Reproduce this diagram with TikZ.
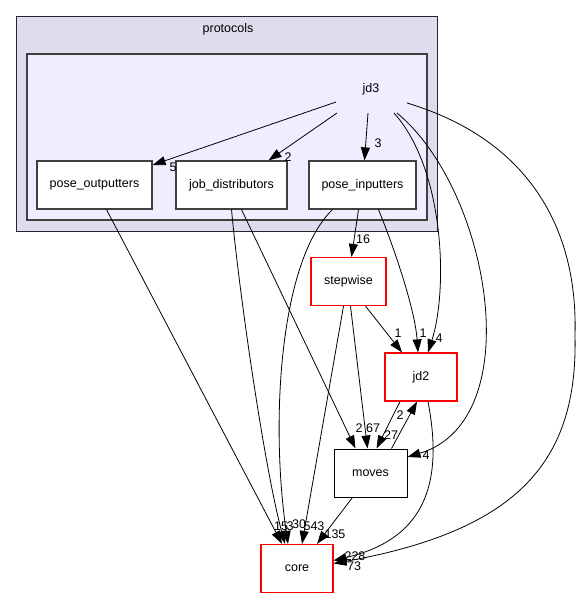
\documentclass[tikz,border=0pt]{standalone}
\usepackage{fontspec}
\setmainfont{Liberation Sans}
\usetikzlibrary{arrows.meta}
\definecolor{outerfill}{RGB}{221,221,238}
\definecolor{innerfill}{RGB}{238,238,255}
\definecolor{boxline}{RGB}{64,64,64}

\begin{document}
\begin{tikzpicture}[x=1pt,y=-1pt,>={Stealth[length=13pt,width=9pt,inset=0pt]},
  font=\fontsize{12.5}{14}\selectfont,
  dirbox/.style={draw=boxline,line width=1.2pt,fill=white,minimum height=48pt,inner sep=0pt},
  extbox/.style={draw=red,line width=1.2pt,fill=white,minimum width=73pt,minimum height=48pt,inner sep=0pt},
  lbl/.style={inner sep=0pt},
  edge/.style={->,line width=0.8pt}]
  \useasboundingbox (0,0) rectangle (580,599);
  % the two clusters
  \draw[fill=outerfill,draw=black!85,line width=0.8pt] (16,16) rectangle (437,231);
  \draw[fill=innerfill,draw=boxline,line width=1.8pt] (27,54) rectangle (427,220);
  \node (protocols) at (228,29) {protocols};
  \node (jd3) at (371,89) {jd3};
  % directories
  \node[dirbox,minimum width=115pt] (poseout) at (94.5,185) {pose\_outputters};
  \node[dirbox,minimum width=111pt] (jobdist) at (231.5,185) {job\_distributors};
  \node[dirbox,minimum width=107pt] (posein) at (362.5,185) {pose\_inputters};
  \node[extbox,minimum width=75pt] (stepwise) at (348.5,281.5) {stepwise};
  \node[extbox,minimum width=72pt] (jd2) at (421,377) {jd2};
  \node[dirbox,draw=black,line width=1pt,minimum width=73pt] (moves) at (370.5,473) {moves};
  \node[extbox,minimum width=72pt] (core) at (297,568.5) {core};
  % out of jd3
  \draw[edge] ([shift={(-35,13)}]jd3.center) -- ([yshift=20pt]poseout.east);
  \draw[edge] ([shift={(-34,24)}]jd3.center) -- ([xshift=37pt]jobdist.north);
  \draw[edge] ([shift={(-3,24)}]jd3.center) -- ([xshift=2pt]posein.north);
  \draw[edge] ([shift={(23,24)}]jd3.center) .. controls (445,170) and (448,290) .. ([xshift=7pt]jd2.north);
  \draw[edge] ([shift={(26,24)}]jd3.center) .. controls (490,190) and (530,420) .. ([yshift=16pt]moves.east);
  \draw[edge] ([shift={(36,14)}]jd3.center) .. controls (530,140) and (578,230) .. (575,335)
    .. controls (578,460) and (520,530) .. ([yshift=5pt]core.east);
  % lower part
  \draw[edge] ([xshift=12pt]poseout.south) -- ([xshift=-15pt]core.north);
  \draw[edge] (jobdist.south) .. controls (240,300) and (265,470) .. ([xshift=-12pt]core.north);
  \draw[edge] ([xshift=10pt]jobdist.south) -- ([xshift=-15pt]moves.north);
  \draw[edge] ([xshift=-30pt]posein.south) .. controls (280,260) and (270,420) .. ([xshift=-9pt]core.north);
  \draw[edge] ([xshift=-4pt]posein.south) -- ([xshift=3pt]stepwise.north);
  \draw[edge] ([xshift=16pt]posein.south) .. controls (395,250) and (415,310) .. ([xshift=-3pt]jd2.north);
  \draw[edge] ([xshift=-5pt]stepwise.south) -- ([xshift=5pt]core.north);
  \draw[edge] ([xshift=2pt]stepwise.south) -- ([xshift=-3pt]moves.north);
  \draw[edge] ([xshift=17pt]stepwise.south) -- ([xshift=-19pt]jd2.north);
  \draw[edge] ([xshift=-21pt]jd2.south) -- ([xshift=6pt]moves.north);
  \draw[edge] ([xshift=21pt]moves.north) -- ([xshift=-4pt]jd2.south);
  \draw[edge] ([xshift=7pt]jd2.south) .. controls (445,490) and (420,540) .. ([yshift=8pt]core.east);
  \draw[edge] ([xshift=-18pt]moves.south) -- ([xshift=20pt]core.north);
  % edge counts
  \foreach \txt/\xpos/\ypos [count=\nn] in {5/173/167, 2/288/157, 3/378/143, 16/363/239,
      1/398/333, 1/423/333, 4/439/338, 2/359/428, 67/373/428, 27/391/435, 2/400/415,
      4/426/455, 15/281/526, 3/290/526, 30/299/524, 543/314/526, 135/335/534,
      228/355/556, 73/354/566}{%
    \node[lbl] (lbl-\nn) at (\xpos,\ypos) {\txt};
  }
\end{tikzpicture}
\end{document}
